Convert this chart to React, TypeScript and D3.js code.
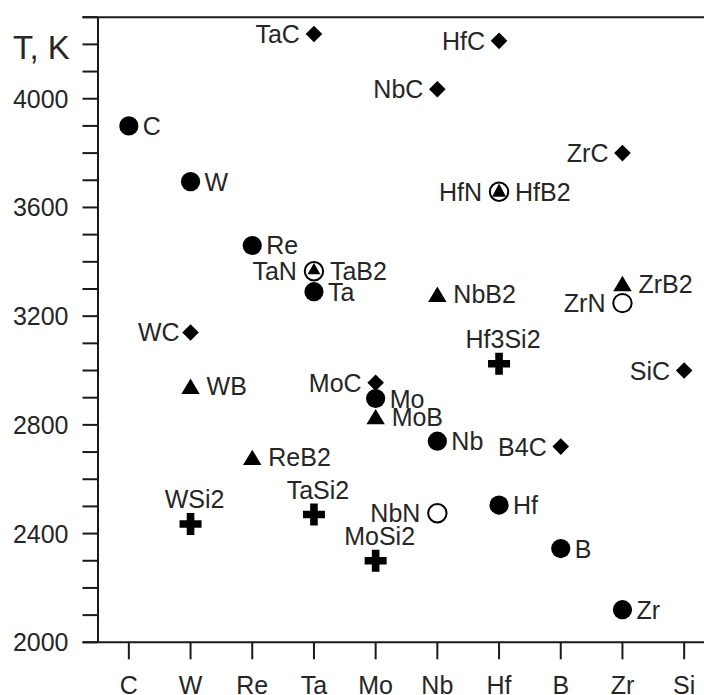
import React from "react";
import * as d3 from "d3";

// ---- data ----
const categories = ["C", "W", "Re", "Ta", "Mo", "Nb", "Hf", "B", "Zr", "Si"];
const yTickLabels = [2000, 2400, 2800, 3200, 3600, 4000];

// compound names, their element column, melting temperature (K), material type
const names = [
  "C", "W", "Re", "Ta", "Mo", "Nb", "Hf", "B", "Zr",
  "TaC", "HfC", "NbC", "ZrC", "WC", "MoC", "B4C", "SiC",
  "TaB2", "HfB2", "ZrB2", "NbB2", "WB", "MoB", "ReB2",
  "TaN", "HfN", "ZrN", "NbN",
  "WSi2", "TaSi2", "MoSi2", "Hf3Si2",
];
const columns = [
  "C", "W", "Re", "Ta", "Mo", "Nb", "Hf", "B", "Zr",
  "Ta", "Hf", "Nb", "Zr", "W", "Mo", "B", "Si",
  "Ta", "Hf", "Zr", "Nb", "W", "Mo", "Re",
  "Ta", "Hf", "Zr", "Nb",
  "W", "Ta", "Mo", "Hf",
];
const temperatures = [
  3900, 3695, 3460, 3290, 2897, 2740, 2505, 2345, 2120,
  4238, 4213, 4035, 3800, 3140, 2955, 2720, 3000,
  3365, 3658, 3320, 3280, 2942, 2830, 2680,
  3365, 3658, 3248, 2475,
  2435, 2470, 2300, 3025,
];
const types = [
  "element", "element", "element", "element", "element", "element", "element", "element", "element",
  "carbide", "carbide", "carbide", "carbide", "carbide", "carbide", "carbide", "carbide",
  "boride", "boride", "boride", "boride", "boride", "boride", "boride",
  "nitride", "nitride", "nitride", "nitride",
  "silicide", "silicide", "silicide", "silicide",
];
// which side each label sits on
const labelSides: Record<string, string> = {
  TaC: "left", HfC: "left", NbC: "left", ZrC: "left", WC: "left", MoC: "left",
  B4C: "left", SiC: "left", TaN: "left", HfN: "left", ZrN: "left", NbN: "left",
  WSi2: "above", TaSi2: "above", MoSi2: "above", Hf3Si2: "above",
};

// ---- layout ----
const W = 704;
const H = 695;
const axisX = 98;
const axisY = 642.3;
const topY = 17.2;
const ink = "#1a1a1a";
const textColor = "#262626";
const font = "'Liberation Sans', Arial, Helvetica, sans-serif";
const fs = 25;

export default function App() {
  const x = d3.scalePoint<string>().domain(categories).range([axisX, axisX + 617]).padding(0.5);
  const y = d3.scaleLinear().domain([2000, 4300]).range([axisY, topY]);
  const minorTicks = d3.range(2000, 4301, 100);

  const pts = names.map((n, i) => ({
    name: n,
    col: columns[i],
    t: temperatures[i],
    type: types[i],
    cx: x(columns[i]) as number,
    cy: y(temperatures[i]),
  }));

  const sharesNitride = (p: any) =>
    p.type === "boride" &&
    pts.some((q) => q.type === "nitride" && q.col === p.col && Math.abs(q.t - p.t) < 5);

  const marker = (p: any, i: number) => {
    const { cx, cy } = p;
    if (p.type === "element") return <circle key={i} cx={cx} cy={cy} r={9.6} fill="#000" />;
    if (p.type === "nitride")
      return <circle key={i} cx={cx} cy={cy} r={9.2} fill="#fff" stroke="#000" strokeWidth={2} />;
    if (p.type === "carbide") {
      const s = 8.3;
      return (
        <path key={i} d={`M${cx},${cy - s}L${cx + s},${cy}L${cx},${cy + s}L${cx - s},${cy}Z`} fill="#000" />
      );
    }
    if (p.type === "boride") {
      if (sharesNitride(p)) {
        const hw = p.col === "Hf" ? 7 : 6.4;
        const top = cy - 8.2;
        const base = p.col === "Hf" ? cy + 5 : cy + 3;
        return <path key={i} d={`M${cx},${top}L${cx + hw},${base}L${cx - hw},${base}Z`} fill="#000" />;
      }
      return (
        <path key={i} d={`M${cx},${cy - 7.8}L${cx + 9.2},${cy + 7.6}L${cx - 9.2},${cy + 7.6}Z`} fill="#000" />
      );
    }
    // silicide: bold plus
    const a = 11, b = 3.8;
    return (
      <path
        key={i}
        d={`M${cx - b},${cy - a}H${cx + b}V${cy - b}H${cx + a}V${cy + b}H${cx + b}V${cy + a}H${cx - b}V${cy + b}H${cx - a}V${cy - b}H${cx - b}Z`}
        fill="#000"
      />
    );
  };

  const label = (p: any, i: number) => {
    const side = labelSides[p.name] || "right";
    let tx = p.cx, ty = p.cy, anchor = "start", dy = "0.36em";
    if (side === "right") {
      const off = p.type === "boride" ? 16 : 14;
      tx = p.cx + off;
    } else if (side === "left") {
      const off = p.type === "nitride" ? 17 : p.name === "WC" ? 11 : 14;
      tx = p.cx - off;
      anchor = "end";
    } else {
      tx = p.cx + 4;
      ty = p.cy - 16;
      anchor = "middle";
      dy = "0";
    }
    return (
      <text key={"l" + i} x={tx} y={ty} dy={dy} textAnchor={anchor} fontSize={fs} fontFamily={font} fill={textColor}>
        {p.name}
      </text>
    );
  };

  // draw order: nitrides first so shared borides sit inside them
  const order = [...pts.keys()].sort((a, b) => {
    const rank = (t: string) => (t === "nitride" ? 0 : 1);
    return rank(pts[a].type) - rank(pts[b].type);
  });

  return (
    <svg width={W} height={H} style={{ position: "absolute", left: 0, top: 0, background: "#fff" }}>
      {/* frame */}
      <line x1={axisX} y1={topY} x2={axisX} y2={axisY} stroke={ink} strokeWidth={2} />
      <line x1={axisX - 15.5} y1={topY} x2={W + 20} y2={topY} stroke={ink} strokeWidth={2} />
      <line x1={axisX - 15.5} y1={axisY} x2={W + 20} y2={axisY} stroke={ink} strokeWidth={2} />
      {/* y ticks */}
      {minorTicks.map((v) => (
        <line key={v} x1={axisX - 15.5} x2={axisX} y1={y(v)} y2={y(v)} stroke={ink} strokeWidth={2} />
      ))}
      {yTickLabels.map((v) => (
        <text key={v} x={68.5} y={y(v)} dy="0.36em" textAnchor="end" fontSize={fs} fontFamily={font} fill={textColor}>
          {v}
        </text>
      ))}
      <text x={13} y={59} fontSize={33} fontFamily={font} fill={textColor}>
        T, K
      </text>
      {/* x ticks */}
      {categories.map((c) => (
        <g key={c}>
          <line x1={x(c)} x2={x(c)} y1={axisY} y2={axisY + 17} stroke={ink} strokeWidth={2} />
          <text x={x(c)} y={694} textAnchor="middle" fontSize={fs} fontFamily={font} fill={textColor}>
            {c}
          </text>
        </g>
      ))}
      {/* markers */}
      {order.map((i) => marker(pts[i], i))}
      {pts.map((p, i) => label(p, i))}
    </svg>
  );
}
